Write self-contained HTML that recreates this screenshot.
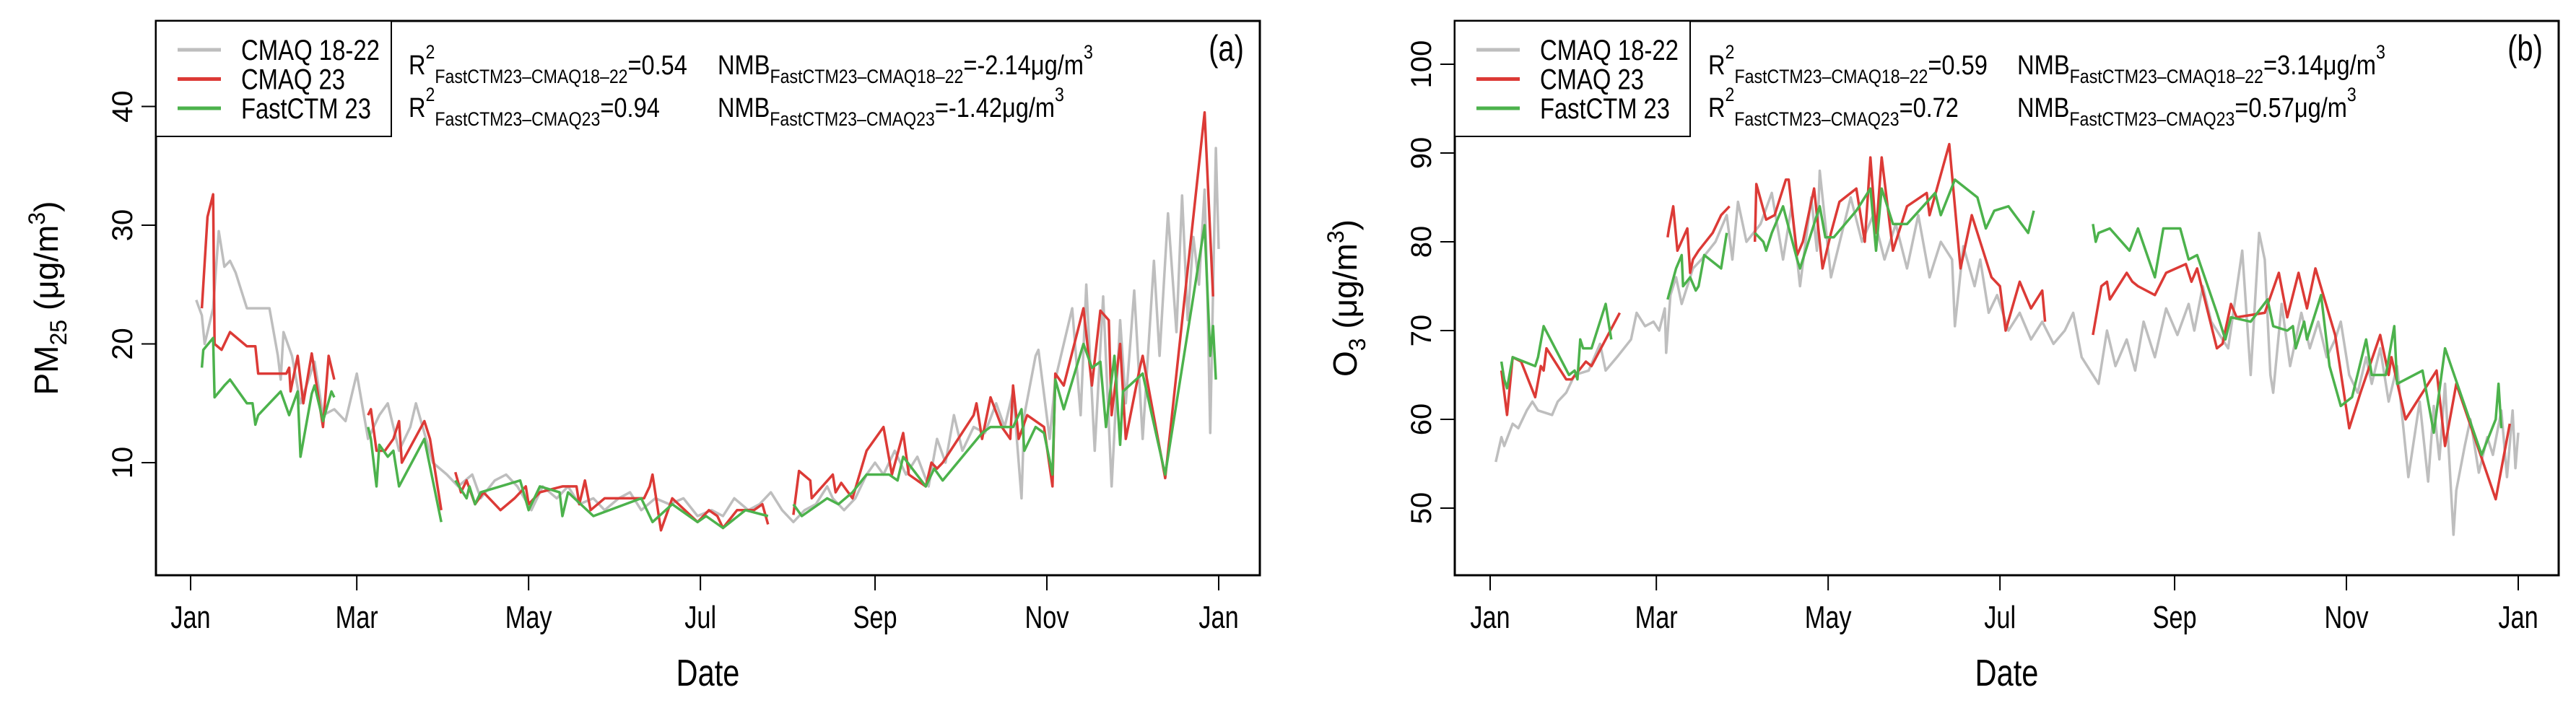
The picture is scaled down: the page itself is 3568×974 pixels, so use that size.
<!DOCTYPE html>
<html><head><meta charset="utf-8"><style>
html,body{margin:0;padding:0;background:#fff;}
svg{display:block;}
text{font-family:"Liberation Sans",sans-serif;fill:#000;}
</style></head><body>
<svg id="chart" width="3568" height="974" viewBox="0 0 3568 974" xmlns="http://www.w3.org/2000/svg"></svg>
<script>
// ---- Panel (a) PM2.5 data ----
const monthLabels = ["Jan","Mar","May","Jul","Sep","Nov","Jan"];
const monthDays = [0,59,120,181,243,304,365];
const pmTicks = [10,20,30,40];
const o3Ticks = [50,60,70,80,90,100];

const pmGrayDays = [2,4,5,8,10,12,14,16,20,24,28,31,32,33,36,39,44,47,51,55,59,63,67,70,74,78,80,86,91,95,100,103,108,112,116,121,125,130,134,138,143,147,152,156,160,165,170,175,180,185,189,193,198,202,206,210,214,218,222,226,228,232,236,240,243,246,250,254,258,262,265,268,271,274,278,282,286,289,292,295,296,300,301,305,307,313,316,318,321,324,327,330,332,335,338,342,344,347,350,352,354,356,358,360,361,362,364,365];
const pmGrayVals = [23.7,22.4,20,23,29.5,26.5,27,26,23,23,23,19,17,21,19,15,18.5,14,14.5,13.5,17.5,12,14,15,11,13,15,10,9,8,9,7,8.5,9,8,6,8,7,8,6.5,7,6,7,7.5,6,7,6.5,7,5.5,6,5.5,7,6,6.5,7.5,6,5,6,6.5,8,7,6,7,9,10,9,11,9,10.5,8,12,10,14,11,13,12.5,15,13,16,7,14,19,19.5,12,17,23,14,25,11,24,8,22,15,24.5,12,27,19,31,21,32.5,22,29,25,33,24,12.5,36.5,28];

const pmRedDays = [4,6,8,8.5,11,14,20,23,24,34,35,35.5,38,40,43,47,49,51,null,63,64,66,69,72,74,75,83,85,89,null,94,96,98,101,104,110,115,119,120,124,132,137,138,140,142,147,161,163,164,167,171,180,184,187,189,194,200,203,205,null,214,216,220,220.5,228,229,231,235,240,246,249,253,255,261,263,265,267,278,279,281,284,288,291,292,294,297,303,306,307,310,317,320,323,326,327,330,332,337,338,346,360,363];
const pmRedVals = [23,30.7,32.6,20,19.5,21,19.8,19.8,17.5,17.5,18,16,19,15,19.2,13,19,17,null,14,14.5,11,11,12,13.5,10,13.5,12,6,null,9.2,7.5,8.5,6.5,7.5,6,7,8,6.5,7.5,8,8,6.5,8.5,6,7,7,8,9,4.3,7,5,6,5.5,4.5,6,6,6.5,4.8,null,5.6,9.3,8.5,7,9,7.5,8.3,7,11,13,9,12.5,9,8,10,9.5,10,14,15,12,15.5,13,12,16.5,12,14,13,8,17.5,16.5,23,16.5,22.8,22,14,20,12,18,19,8.7,39.5,24];

const pmGreenDays = [4,4.5,8,8.5,12,14,20,22,23,24,32,35,38,39,43,44,47,50,51,null,63,64,66,67,70,72,74,83,89,null,94,98,99,101,103,117,120,124,131,132,134,143,160,164,171,180,183,189,197,205,null,214,217,226,230,235,240,248,251,253,261,264,267,281,284,292,295,296,300,303,306,307,310,317,320,323,325,328,330,331,338,346,360,362,363,364];
const pmGreenVals = [18,19.5,20.5,15.5,16.5,17,15,15,13.2,14,16,14,16,10.5,15.8,16.5,13.5,16,15.5,null,13,12,8,11.5,10.5,11,8,12,5,null,8.5,7,8,6.5,7.5,8.5,6,8,7.5,5.5,7.5,5.5,7,5,6.5,5,5.5,4.5,6,5.5,null,6.5,5.5,7,6.5,7.5,9,9,8.5,10.5,8,9.5,8.5,12.5,13,13,14.5,11,13,12.5,9,17,14.5,20,18,18.5,13,19,11.5,16,17.5,9,30,19,21.5,17];

// ---- Panel (b) O3 data ----
const o3GrayDays = [2,4,5,8,10,13,15,17,22,24,27,30,35,39,41,45,50,52,55,58,60,62,62.5,64,66,68,72,75,80,84,86,88,91,96,100,104,107,110,114,116,117,121,128,132,136,140,144,148,152,156,160,164,165,168,172,174,177,180,184,188,192,196,200,204,207,210,216,219,222,226,229,232,236,240,244,248,250,253,256,260,262,267,270,273,275,277,278,281,284,288,291,294,297,300,302,305,308,311,313,316,319,322,326,330,333,335,337,339,342,343,346,348,351,354,356,359,361,363,364,365];
const o3GrayVals = [55.2,58,57,59.5,59,61,62,61,60.5,62,63,65,65.5,68.5,65.5,67,69,72,70.5,71,70,72.5,67.5,74,76,73,77,78,80,83,78,84.5,80,82,85.5,78,84,75,85,79,88,76,85,80,83,78,82,77,83,76,80,78,70.5,79.5,75,78,72,74,70,72,69,71,68.5,70,72,67,64,70,66,69,65.5,71,67,72.5,69.5,73,70,75,71,69,68,79,65,81,78,65,63,73,66,72,68,71,67,69,71,65,63,67,64,68,62,66,53.5,62,53,61.5,55.5,64,47,52,57,60,54,58,56,61,53.5,61,54.5,58.5];

const o3RedDays = [4,6,8,11,16,18,19,20,27,29,34,36,46,null,63,63.5,65,66.5,70,71,72,74,79,82,85,null,94,94.5,98,101,105,106,109,111,115,118,121,124,130,133,135,137,139,143,148,155,156,163,167,171,178,181,183,188,192,196,197,null,214,217,219,220,226,228,230,236,240,247,249,251,258,260,263,265,275,280,283,287,290,293,300,305,309,316,319,320,325,336,339,343,357,362];
const o3RedVals = [65.5,60.5,67,66.5,62.5,66,65.5,68,64.5,64.5,66.5,66,72,null,80.5,81.5,84,79,81.5,76.5,78,79,81,83,84,null,80,86.5,82.5,83,87,87,78.5,80,86,77,81,84.5,86,80,89.5,81,89.5,79,84,85.5,83,91,77,83,76,75,70,75.5,72.5,74.5,71,null,69.5,75,75.5,73.5,76.5,75.5,75,74,76.5,77.5,75.5,77,68,68.5,73,71.5,72,76.5,71.5,76.5,72.5,77,69.5,59,63,69.5,65,67,60,65.5,57,64,51,59.5];

const o3GreenDays = [4,5,6,8,16,17,19,28,30,31,32,33,36,41,43,null,63,66,68,68.5,71,73,74,76,82,84,null,94,97,98,100,104,109,110,113,117,119,122,130,135,137,139,143,148,158,160,165,173,176,179,184,191,193,null,214,215,216,220,227,230,236,239,245,248,251,258,261,263,270,276,278,283,285,286,289,290,295,298,302,306,311,313,318,321,322,331,335,339,352,357,358,359];
const o3GreenVals = [66.5,64.5,63.5,67,66,67,70.5,65,65.5,64.5,69,68,68,73,69,null,73.5,77,78.5,75,76,74.5,75,78.5,77,81,null,81,80,79,81,84,78,77,80,84,80.5,80.5,83.5,86,79,86,82,82,85.5,83,87,85,81.5,83.5,84,81,83.5,null,82,80,81,81.5,79,81.5,76,81.5,81.5,78,78.5,72,69,71.5,71,73.5,70.5,70,70.5,68,71,69,74,66,61.5,62.5,69,65,65,70.5,64,65.5,58.5,68,56,60,64,59];

const NS = "http://www.w3.org/2000/svg";
const svg = document.getElementById("chart");
function mk(tag, attrs, parent){
  const e = document.createElementNS(NS, tag);
  for (const k in attrs) e.setAttribute(k, attrs[k]);
  (parent||svg).appendChild(e);
  return e;
}
// horizontally compress a text element (narrow-font look) around anchor x
function squeeze(el, ax, k){
  el.setAttribute("transform", `translate(${ax},0) scale(${k},1) translate(${-ax},0)`);
}
function fitWidth(el, ax, target){
  const w = el.getBBox().width;
  if (w > 0) squeeze(el, ax, target / w);
}
const COL = {gray:"#bebebe", red:"#dc3a36", green:"#4cb24c"};

function panel(cfg){
  const g = mk("g", {});
  
  
  const X = d => cfg.x0 + (d/365)*(cfg.x1 - cfg.x0);
  const Y = v => cfg.yRef + (cfg.vRef - v)*cfg.ppu;
  const box = mk("rect", {x:cfg.L, y:29, width:cfg.R-cfg.L, height:768, fill:"none", stroke:"#000", "stroke-width":3}, g);
  
  
  monthLabels.forEach((lab,i)=>{
    const x = X(monthDays[i]);
    const t = mk("line", {x1:x, x2:x, y1:797, y2:818, stroke:"#000", "stroke-width":2}, g);
    
    
    const tx = mk("text", {x:x, y:870, "text-anchor":"middle", "font-size":44}, g);
    tx.textContent = lab;
    
    
    squeeze(tx, x, 0.78);
  });
  cfg.ticks.forEach(v=>{
    const y = Y(v);
    const t = mk("line", {x1:cfg.L, x2:cfg.L-20, y1:y, y2:y, stroke:"#000", "stroke-width":2}, g);
    
    
    const tx = mk("text", {x:0, y:0, "text-anchor":"middle", "font-size":40, transform:`translate(${cfg.L-33},${y}) rotate(-90)`}, g);
    tx.textContent = v;
    
    
  });
  const xcx = (cfg.L+cfg.R)/2;
  const xt = mk("text", {x:xcx, y:950, "text-anchor":"middle", "font-size":52}, g);
  xt.textContent = "Date";
  
  
  squeeze(xt, xcx, 0.8);
  const yt = mk("text", {x:0, y:0, "text-anchor":"middle", "font-size":46, transform:`translate(${cfg.L-136},413) rotate(-90)`}, g);
  yt.innerHTML = cfg.ytitle;
  
  
  cfg.series.forEach(s=>{
    let d = "", pen = false;
    for (let i=0;i<s.days.length;i++){
      if (s.days[i]===null || s.vals[i]===null){ pen=false; continue; }
      d += (pen?"L":"M") + X(s.days[i]).toFixed(1) + " " + Y(s.vals[i]).toFixed(1);
      pen = true;
    }
    const p = mk("path", {d:d, fill:"none", stroke:s.color, "stroke-width":s.w, "stroke-linejoin":"round"}, g);
    
    
  });
  const lg = mk("g", {}, g);
  
  
  mk("rect", {x:cfg.L, y:29, width:cfg.legW, height:160, fill:"#fff", stroke:"#000", "stroke-width":2}, lg);
  const entries = [["CMAQ 18-22",COL.gray,192],["CMAQ 23",COL.red,144],["FastCTM 23",COL.green,180]];
  entries.forEach((e,i)=>{
    const y = 69 + i*40.5;
    const ln = mk("line", {x1:cfg.L+30, x2:cfg.L+90, y1:y, y2:y, stroke:e[1], "stroke-width":5}, lg);
    
    
    const tx0 = cfg.L+118;
    const t = mk("text", {x:tx0, y:y+14, "font-size":40}, lg);
    t.textContent = e[0];
    
    
    fitWidth(t, tx0, e[2]);
  });
  cfg.stats.forEach(s=>{
    const t = mk("text", {x:s[0], y:s[1], "font-size":38}, g);
    t.innerHTML = s[2];
    
    
    fitWidth(t, s[0], s[3]);
  });
  const px = cfg.R-22;
  const pl = mk("text", {x:px, y:84, "text-anchor":"end", "font-size":50}, g);
  pl.textContent = cfg.label;
  
  
  squeeze(pl, px, 0.8);
}

function R2(lbl,val){return `R<tspan font-size="27" dy="-22">2</tspan><tspan font-size="27" dy="34">${lbl}</tspan><tspan dy="-12">=${val}</tspan>`;}
function NMB(lbl,val){return `NMB<tspan font-size="27" dy="12">${lbl}</tspan><tspan dy="-12">=${val}μg/m</tspan><tspan font-size="27" dy="-22">3</tspan>`;}

panel({name:"panel-a-pm25", L:216, R:1745, x0:264, x1:1688, yRef:641, vRef:10, ppu:16.45, ticks:pmTicks,
  ytitle:'PM<tspan font-size="32" dy="12">25</tspan><tspan dy="-12"> (μg/m</tspan><tspan font-size="32" dy="-18">3</tspan><tspan dy="18">)</tspan>',
  legW:326, label:"(a)",
  series:[
    {name:"cmaq-18-22-line", days:pmGrayDays, vals:pmGrayVals, color:COL.gray, w:3.5},
    {name:"cmaq-23-line", days:pmRedDays, vals:pmRedVals, color:COL.red, w:3.5},
    {name:"fastctm-23-line", days:pmGreenDays, vals:pmGreenVals, color:COL.green, w:3.5}
  ],
  stats:[[566,103,R2("FastCTM23–CMAQ18–22","0.54"),386],[994,103,NMB("FastCTM23–CMAQ18–22","-2.14"),520],
         [566,162,R2("FastCTM23–CMAQ23","0.94"),348],[994,162,NMB("FastCTM23–CMAQ23","-1.42"),480]]
});
panel({name:"panel-b-o3", L:2015, R:3544, x0:2064, x1:3488, yRef:704, vRef:50, ppu:12.3, ticks:o3Ticks,
  ytitle:'O<tspan font-size="32" dy="12">3</tspan><tspan dy="-12"> (μg/m</tspan><tspan font-size="32" dy="-18">3</tspan><tspan dy="18">)</tspan>',
  legW:326, label:"(b)",
  series:[
    {name:"cmaq-18-22-line", days:o3GrayDays, vals:o3GrayVals, color:COL.gray, w:3.5},
    {name:"cmaq-23-line", days:o3RedDays, vals:o3RedVals, color:COL.red, w:3.5},
    {name:"fastctm-23-line", days:o3GreenDays, vals:o3GreenVals, color:COL.green, w:3.5}
  ],
  stats:[[2366,103,R2("FastCTM23–CMAQ18–22","0.59"),387],[2794,103,NMB("FastCTM23–CMAQ18–22","3.14"),510],
         [2366,162,R2("FastCTM23–CMAQ23","0.72"),347],[2794,162,NMB("FastCTM23–CMAQ23","0.57"),470]]
});
</script>
</body></html>
